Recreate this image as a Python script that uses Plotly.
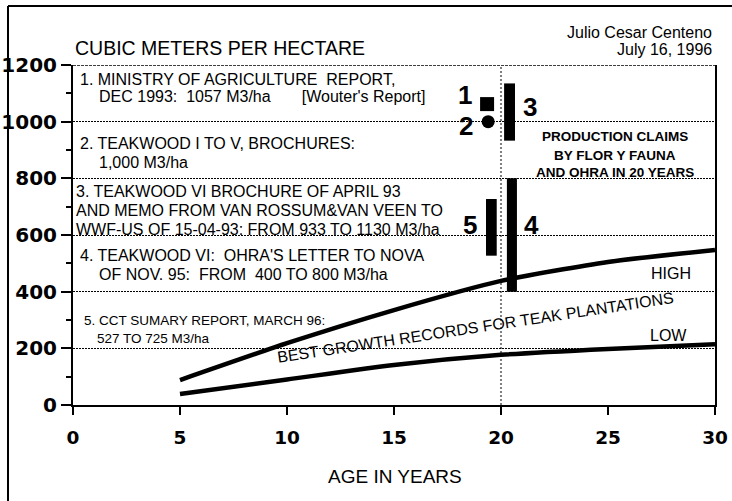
import plotly.graph_objects as go

# ---- data ----
ages = [5, 10, 15, 20, 25, 30]
high_growth = [88, 218, 335, 438, 505, 547]
low_growth = [39, 90, 141, 177, 198, 214]

claim_ids = ["3", "4", "5"]
claim_x = [20.4, 20.51, 19.55]
claim_low = [933, 400, 527]
claim_high = [1135, 800, 727]
claim_width = [0.51, 0.47, 0.5]

claim1_x, claim1_y = 19.35, 1062   # square, report 1
claim2_x, claim2_y = 19.4, 1000    # circle, brochures 2
claim_age = 20

x_ticks = [0, 5, 10, 15, 20, 25, 30]
y_ticks = [0, 200, 400, 600, 800, 1000, 1200]

legend_lines = [
    ("1. MINISTRY OF AGRICULTURE\u00a0\u00a0REPORT,", 78, 79, 16),
    ("DEC 1993:\u00a0\u00a01057 M3/ha\u00a0\u00a0\u00a0\u00a0\u00a0\u00a0\u00a0[Wouter's Report]", 97, 96, 16),
    ("2. TEAKWOOD I TO V, BROCHURES:", 78, 143, 16),
    ("1,000 M3/ha", 97, 162, 16),
    ("3. TEAKWOOD VI BROCHURE OF APRIL 93", 74, 191, 16),
    ("AND MEMO FROM VAN ROSSUM&VAN VEEN TO", 74, 210, 16),
    ("WWF-US OF 15-04-93: FROM 933 TO 1130 M3/ha", 74, 229, 16),
    ("4. TEAKWOOD VI:\u00a0\u00a0OHRA'S LETTER TO NOVA", 78, 255, 16),
    ("OF NOV. 95:\u00a0\u00a0FROM\u00a0\u00a0400 TO 800 M3/ha", 97, 274, 16),
    ("5. CCT SUMARY REPORT, MARCH 96:", 82, 320, 13.5),
    ("527 TO 725 M3/ha", 95, 338, 13.5),
]

# ---- geometry helpers (pixel -> data) ----
L, R, T, B = 73, 17, 65, 96
W, H = 732, 501
PX0, PX1 = 73, 715
PY0, PY1 = 405, 65


def dx(px):
    return (px - PX0) / (PX1 - PX0) * 30


def dy(py):
    return (PY0 - py) / (PY0 - PY1) * 1200


def px_paper(px):
    return (px - PX0) / (PX1 - PX0)


def py_paper(py):
    return (PY0 - py) / (PY0 - PY1)


FONT = "Liberation Sans, Arial, sans-serif"
TICKFONT = "DejaVu Sans, Verdana, sans-serif"

fig = go.Figure()

fig.add_trace(go.Scatter(x=ages, y=high_growth, mode="lines",
                         line=dict(color="black", width=4.5, shape="spline", smoothing=0.6),
                         hoverinfo="skip", showlegend=False))
fig.add_trace(go.Scatter(x=ages, y=low_growth, mode="lines",
                         line=dict(color="black", width=4.5, shape="spline", smoothing=0.6),
                         hoverinfo="skip", showlegend=False))

fig.add_trace(go.Bar(x=claim_x, base=claim_low,
                     y=[h - l for h, l in zip(claim_high, claim_low)],
                     width=claim_width, marker=dict(color="black", line=dict(width=0)),
                     showlegend=False, hoverinfo="skip"))

fig.add_trace(go.Scatter(x=[claim1_x], y=[claim1_y], mode="markers",
                         marker=dict(symbol="square", size=14, color="black"),
                         showlegend=False, hoverinfo="skip"))
fig.add_trace(go.Scatter(x=[claim2_x], y=[claim2_y], mode="markers",
                         marker=dict(symbol="circle", size=13, color="black"),
                         showlegend=False, hoverinfo="skip"))

ann = []
for text, px, py, fs in legend_lines:
    ann.append(dict(x=dx(px), y=dy(py), xref="x", yref="y", text=text, showarrow=False,
                    xanchor="left", yanchor="middle",
                    font=dict(family=FONT, size=fs, color="black")))

# numbers near claims
for t, px, py in [("1", 465, 95), ("2", 466, 126), ("3", 530, 107), ("5", 470, 225), ("4", 531, 225)]:
    ann.append(dict(x=dx(px), y=dy(py), xref="x", yref="y", text="<b>%s</b>" % t, showarrow=False,
                    xanchor="center", yanchor="middle",
                    font=dict(family=FONT, size=26, color="black")))

for t, py in [("PRODUCTION CLAIMS", 136), ("BY FLOR Y FAUNA", 155), ("AND OHRA IN 20 YEARS", 172)]:
    ann.append(dict(x=dx(615), y=dy(py), xref="x", yref="y", text="<b>%s</b>" % t, showarrow=False,
                    xanchor="center", yanchor="middle",
                    font=dict(family=FONT, size=13.5, color="black")))

ann.append(dict(x=dx(671), y=dy(273), xref="x", yref="y", text="HIGH", showarrow=False,
                font=dict(family=FONT, size=16, color="black")))
ann.append(dict(x=dx(668), y=dy(335), xref="x", yref="y", text="LOW", showarrow=False,
                font=dict(family=FONT, size=16, color="black")))
ann.append(dict(x=dx(475), y=dy(327), xref="x", yref="y",
                text="BEST GROWTH RECORDS FOR TEAK PLANTATIONS", showarrow=False,
                textangle=-8.6, font=dict(family=FONT, size=16, color="black")))

# outside texts
ann.append(dict(x=0, y=py_paper(48), xref="paper", yref="paper", text="CUBIC METERS PER HECTARE",
                showarrow=False, xanchor="left", yanchor="middle",
                font=dict(family=FONT, size=19.5, color="black")))
ann.append(dict(x=px_paper(714), y=py_paper(33), xref="paper", yref="paper", text="Julio Cesar Centeno",
                showarrow=False, xanchor="right", yanchor="middle",
                font=dict(family=FONT, size=16, color="black")))
ann.append(dict(x=px_paper(714), y=py_paper(50), xref="paper", yref="paper", text="July 16, 1996",
                showarrow=False, xanchor="right", yanchor="middle",
                font=dict(family=FONT, size=16, color="black")))
ann.append(dict(x=px_paper(395), y=py_paper(476), xref="paper", yref="paper", text="AGE IN YEARS",
                showarrow=False, xanchor="center", yanchor="middle",
                font=dict(family=FONT, size=19, color="black")))

shapes = [
    # vertical dotted reference at 20 years
    dict(type="line", xref="x", yref="y", x0=claim_age, x1=claim_age, y0=0, y1=1200,
         line=dict(color="black", width=1, dash="2px,2px"), layer="below"),
    # top dotted border
    dict(type="line", xref="paper", yref="y", x0=0, x1=1, y0=1200, y1=1200,
         line=dict(color="black", width=1.5, dash="3px,1px"), layer="above"),
    # page frame (left and top)
    dict(type="line", xref="paper", yref="paper", x0=px_paper(8), x1=px_paper(8),
         y0=py_paper(6), y1=py_paper(501), line=dict(color="black", width=2)),
    dict(type="line", xref="paper", yref="paper", x0=px_paper(8), x1=px_paper(732),
         y0=py_paper(6), y1=py_paper(6), line=dict(color="black", width=2)),
]

fig.update_layout(
    width=W, height=H,
    margin=dict(l=L, r=R, t=T, b=B, pad=0, autoexpand=False),
    paper_bgcolor="white", plot_bgcolor="white",
    annotations=ann, shapes=shapes, barmode="overlay",
    showlegend=False,
    xaxis=dict(range=[0, 30], tickvals=x_ticks, ticktext=[str(v) for v in x_ticks],
               showgrid=False, zeroline=False, showline=True, linecolor="black", linewidth=2,
               ticks="outside", ticklen=8, tickwidth=2, tickcolor="black",
               ticklabelstandoff=7, automargin=False,
               tickfont=dict(family=TICKFONT, size=18.5, color="black", weight="bold")),
    yaxis=dict(range=[0, 1200], tickvals=y_ticks, ticktext=[str(v) for v in y_ticks],
               showgrid=True, gridcolor="black", gridwidth=1, griddash="2px,1px",
               zeroline=False, showline=True, mirror=True, linecolor="black", linewidth=2,
               ticks="outside", ticklen=10, tickwidth=1.5, tickcolor="black", automargin=False,
               minor=dict(dtick=100, ticks="outside", ticklen=5, tickwidth=1.5, tickcolor="black"),
               tickfont=dict(family=TICKFONT, size=20, color="black", weight="bold")),
)

fig.write_html("out.html", config={"displayModeBar": False},
               post_script="document.body.style.margin='0px';document.body.style.overflow='hidden';")
